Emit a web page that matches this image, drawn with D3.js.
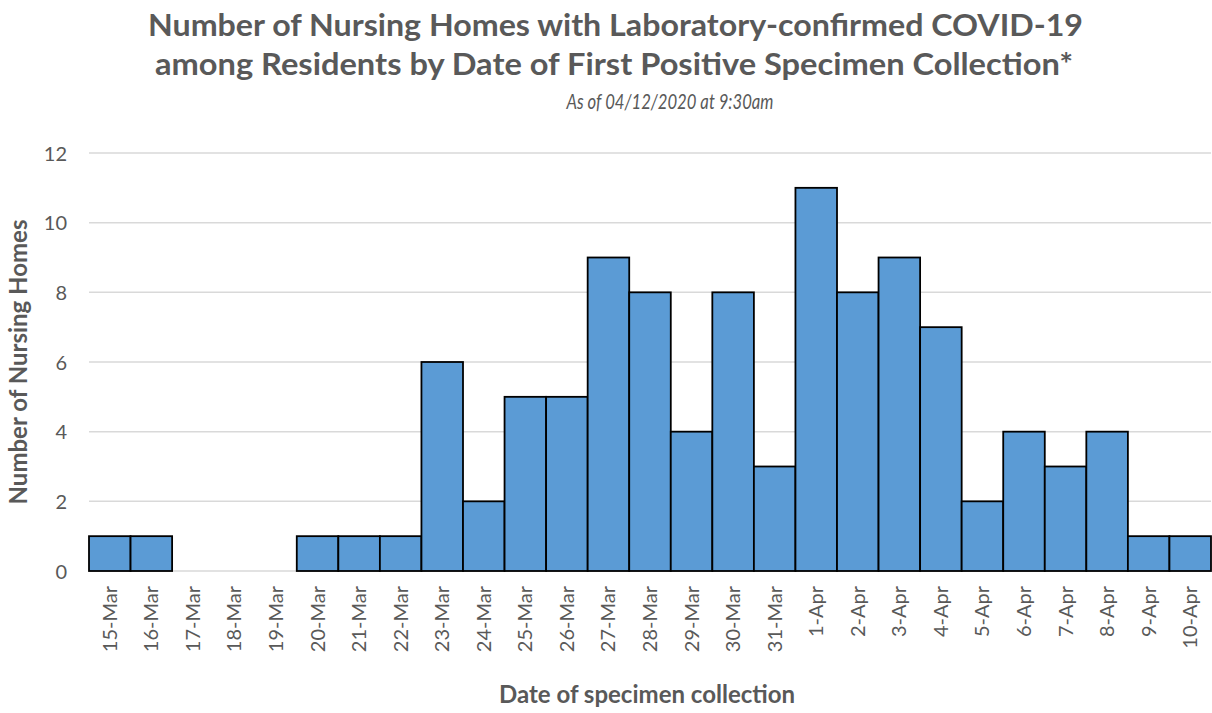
<!DOCTYPE html>
<html><head><meta charset="utf-8">
<script src="https://cdn.jsdelivr.net/npm/d3@7"></script>
<style>body{margin:0;background:#fff;} text{font-family:Lato,"Open Sans",sans-serif;}</style>
</head><body>
<svg id="c" width="1212" height="713"></svg>
<script>
const categories = ["15-Mar","16-Mar","17-Mar","18-Mar","19-Mar","20-Mar","21-Mar","22-Mar","23-Mar","24-Mar","25-Mar","26-Mar","27-Mar","28-Mar","29-Mar","30-Mar","31-Mar","1-Apr","2-Apr","3-Apr","4-Apr","5-Apr","6-Apr","7-Apr","8-Apr","9-Apr","10-Apr"];
const values = [1,1,0,0,0,1,1,1,6,2,5,5,9,8,4,8,3,11,8,9,7,2,4,3,4,1,1];
const yTicks = [0,2,4,6,8,10,12];

const svg = d3.select("#c");
const m = {l:89, r:1211, t:153, b:571};
const x = d3.scaleBand().domain(categories).range([m.l, m.r]).padding(0);
const y = d3.scaleLinear().domain([0,12]).range([m.b, m.t]);

// gridlines
svg.append("g").selectAll("line").data(yTicks).join("line")
  .attr("x1", m.l).attr("x2", m.r)
  .attr("y1", d=>y(d)).attr("y2", d=>y(d))
  .attr("stroke", "#d9d9d9").attr("stroke-width", 1.5);

// bars
const barData = values.map((v,i)=>({c:categories[i], v})).filter(d=>d.v>0);
svg.append("g").selectAll("rect").data(barData).join("rect")
  .attr("x", d=>x(d.c)).attr("width", x.bandwidth())
  .attr("y", d=>y(d.v)).attr("height", d=>y(0)-y(d.v))
  .attr("fill", "#5b9bd5").attr("stroke", "#000").attr("stroke-width", 1.8);

// y axis labels
const ya = d3.axisLeft(y).tickValues(yTicks).tickSize(0).tickPadding(0);
const gy = svg.append("g").attr("transform", `translate(67,0)`).call(ya);
gy.select(".domain").remove();
gy.selectAll("text").attr("font-size", 20).attr("fill", "#595959").attr("dy", "0.35em")
  .style("font-family", "Lato, sans-serif");

// x axis labels
const xa = d3.axisBottom(x).tickSize(0).tickPadding(0);
const gx = svg.append("g").attr("transform", `translate(0,${m.b})`).call(xa);
gx.select(".domain").remove();
gx.selectAll("text").attr("font-size", 20).attr("fill", "#595959")
  .style("font-family", "Lato, sans-serif")
  .attr("text-anchor", "end").attr("transform", "rotate(-90)")
  .attr("x", -15).attr("y", 0).attr("dy", "0.35em");

// titles
svg.append("text").attr("x", 615.5).attr("y", 36).attr("text-anchor","middle")
  .attr("font-size", 31).attr("font-weight","bold").attr("fill","#595959")
  .attr("textLength", 935).attr("lengthAdjust","spacingAndGlyphs")
  .text("Number of Nursing Homes with Laboratory-confirmed COVID-19");
svg.append("text").attr("x", 614).attr("y", 75).attr("text-anchor","middle")
  .attr("font-size", 31).attr("font-weight","bold").attr("fill","#595959")
  .attr("textLength", 918).attr("lengthAdjust","spacingAndGlyphs")
  .text("among Residents by Date of First Positive Specimen Collection*");
svg.append("text").attr("x", 670).attr("y", 109).attr("text-anchor","middle")
  .attr("font-size", 21).attr("font-style","italic").attr("fill","#595959")
  .attr("textLength", 207).attr("lengthAdjust","spacingAndGlyphs")
  .text("As of 04/12/2020 at 9:30am");

svg.append("text").attr("transform", "translate(27,362) rotate(-90)").attr("text-anchor","middle")
  .attr("font-size", 24).attr("font-weight","bold").attr("fill","#595959")
  .text("Number of Nursing Homes");
svg.append("text").attr("x", 647).attr("y", 703).attr("text-anchor","middle")
  .attr("font-size", 24).attr("font-weight","bold").attr("fill","#595959")
  .text("Date of specimen collection");
</script>
</body></html>
